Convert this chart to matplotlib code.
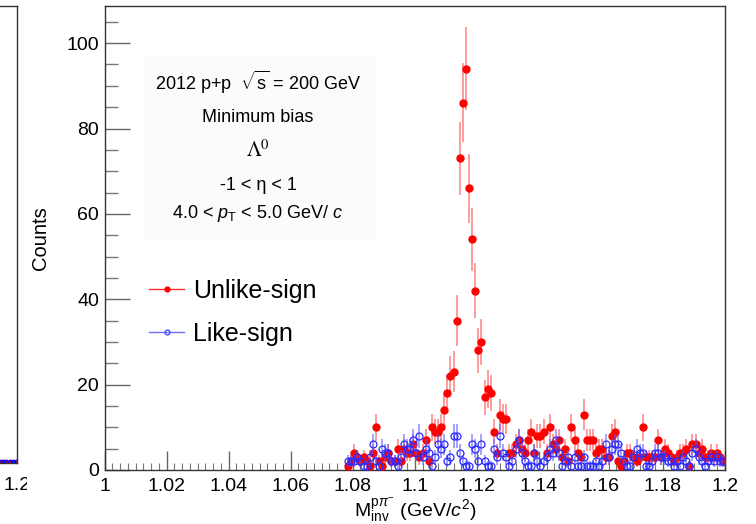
import numpy as np
import matplotlib
matplotlib.use('Agg')
import matplotlib.pyplot as plt
from matplotlib.ticker import MultipleLocator, FixedLocator
from matplotlib.lines import Line2D
from matplotlib.patches import Rectangle

plt.rcParams['font.family'] = ['Liberation Sans', 'DejaVu Sans']
plt.rcParams['mathtext.fontset'] = 'custom'
plt.rcParams['mathtext.rm'] = 'Liberation Sans'
plt.rcParams['mathtext.it'] = 'Liberation Sans:italic'
plt.rcParams['mathtext.bf'] = 'Liberation Sans:bold'

# ---------------- data ----------------
bin_lo = 1.078
bin_width = 0.001
unlike_sign = [
    1, 2, 4, 3, 2, 3, 2, 1, 4, 10,
    2, 1, 3, 4, 2, 2, 5, 2, 5, 4,
    4, 6, 4, 3, 4, 7, 2, 10, 9, 9,
    10, 14, 18, 22, 23, 35, 73, 86, 94, 66,
    54, 42, 28, 30, 17, 19, 18, 9, 4, 13,
    12, 12, 4, 4, 6, 7, 5, 4, 7, 9,
    4, 8, 8, 9, 4, 10, 6, 5, 7, 3,
    5, 2, 10, 7, 4, 3, 13, 7, 7, 7,
    4, 5, 5, 3, 3, 8, 9, 2, 1, 2,
    4, 4, 3, 2, 3, 10, 3, 3, 3, 3,
    7, 3, 5, 4, 3, 2, 3, 4, 4, 5,
    1, 6, 6, 4, 5, 3, 3, 4, 3, 4,
    3, 2,
]
like_sign = [
    2, 2, 2, 3, 2, 1, 1, 3, 6, 2,
    1, 5, 4, 4, 2, 2, 1, 3, 6, 5,
    5, 7, 4, 8, 3, 5, 4, 1, 3, 6,
    5, 6, 2, 3, 8, 8, 4, 2, 1, 1,
    6, 5, 2, 6, 2, 1, 1, 5, 3, 8,
    4, 3, 1, 2, 5, 7, 4, 2, 1, 1,
    4, 2, 1, 2, 3, 5, 4, 7, 4, 1,
    2, 3, 1, 3, 1, 1, 3, 1, 1, 1,
    2, 1, 2, 6, 3, 5, 6, 6, 4, 2,
    1, 1, 3, 5, 4, 4, 1, 1, 2, 4,
    4, 3, 3, 2, 2, 1, 2, 1, 3, 2,
    1, 4, 5, 3, 2, 1, 2, 3, 2, 3,
    2, 2,
]
# neighbouring (cut-off) panel on the left: last bins only
left_lo = 1.185
left_unlike = [30, 25, 28, 22, 26, 24, 27, 23, 25, 21, 24, 22, 20, 23, 25]
left_like = [20, 22, 18, 21, 19, 23, 20, 18, 22, 19, 21, 20, 22, 18, 19]

x_ticks = [1.0, 1.02, 1.04, 1.06, 1.08, 1.1, 1.12, 1.14, 1.16, 1.18, 1.2]
x_tick_labels = ['1', '1.02', '1.04', '1.06', '1.08', '1.1', '1.12', '1.14',
                 '1.16', '1.18', '1.2']
y_ticks = [0, 20, 40, 60, 80, 100]

# ---------------- figure ----------------
W, H = 756, 524
fig = plt.figure(figsize=(W / 100, H / 100), dpi=100)

def fx(px):
    return px / W

def fy(py):
    return 1 - py / H

RED = '#ff0000'
BLUE = '#0000ff'

# left, partially hidden panel
axl = fig.add_axes([fx(-600), fy(463), fx(617.3), fy(6) - fy(463)])
axl.set_zorder(-2)
ul = np.asarray(left_unlike, float)
ll = np.asarray(left_like, float)
xl = left_lo + (np.arange(len(ul)) + 0.5) * bin_width
axl.errorbar(xl, ul, yerr=np.sqrt(ul), fmt='o', color=RED, ms=3, ecolor=(1, 0, 0, 0.5), elinewidth=1)
axl.errorbar(xl, ll, yerr=np.sqrt(ll), fmt='o', color=BLUE, ms=3, mfc='none', ecolor=(0, 0, 1, 0.5), elinewidth=1)
axl.set_xlim(1.0, 1.2)
axl.set_ylim(0, 8000)
axl.xaxis.set_major_locator(FixedLocator([1.2]))
axl.set_xticklabels(['1.2'])
axl.set_yticks([])
axl.tick_params(axis='x', direction='in', length=0, labelsize=14, pad=10)
for s in axl.spines.values():
    s.set_color('#333333')
    s.set_linewidth(1)

# white cover (main pad)
cover = Rectangle((fx(27), 0), 1 - fx(27), 1, transform=fig.transFigure,
                  facecolor='white', edgecolor='none', zorder=-1)
fig.add_artist(cover)

ax = fig.add_axes([fx(104.5), fy(470), fx(725) - fx(104.5), fy(6) - fy(470)])
ax.set_zorder(0)

u = np.asarray(unlike_sign, float)
l = np.asarray(like_sign, float)
xc = bin_lo + (np.arange(len(u)) + 0.5) * bin_width

ax.errorbar(xc, u, yerr=np.sqrt(u), fmt='o', color=RED, ms=5.0, mec=RED,
            ecolor=(1, 0.3, 0.3, 0.7), elinewidth=1.1, capsize=0, zorder=3)
ax.errorbar(xc, l, yerr=np.sqrt(l), fmt='o', color=BLUE, ms=5.0, mfc='none',
            mec='#2a2aff', mew=0.9, ecolor=(0.35, 0.35, 1, 0.7), elinewidth=1.1,
            capsize=0, zorder=4)

ax.set_xlim(1.0, 1.2)
ax.set_ylim(0, 108.7)
ax.set_xticks(x_ticks)
ax.set_xticklabels(x_tick_labels)
ax.set_yticks(y_ticks)
ax.xaxis.set_minor_locator(MultipleLocator(0.0025))
ax.yaxis.set_minor_locator(MultipleLocator(5))
ax.tick_params(axis='x', which='major', direction='in', length=14, width=1,
               color='#666666', labelsize=14, pad=6)
ax.tick_params(axis='x', which='minor', direction='in', length=5, width=0.8,
               color='#777777')
ax.tick_params(axis='y', which='major', direction='in', length=18, width=1,
               color='#666666', labelsize=14, pad=4)
ax.tick_params(axis='y', which='minor', direction='in', length=9, width=1,
               color='#777777')
for s in ax.spines.values():
    s.set_color('#333333')
    s.set_linewidth(1)

ax.set_ylabel('Counts', fontsize=14.5, labelpad=12)
ax.set_xlabel(r'M$_{\mathrm{inv}}^{\mathrm{p}\pi^{-}}$ (GeV/$c^{2}$)',
              fontsize=14, labelpad=1)

# info box
ax.add_artist(Rectangle((fx(145), fy(240)), fx(375) - fx(145), fy(55) - fy(240),
                        transform=fig.transFigure, facecolor='#fbfbfb',
                        edgecolor='none', zorder=0))
cx = fx(258)
fs = 13
fig.text(cx, fy(82), r'2012 p+p  $\sqrt{\mathrm{s}}$ = 200 GeV', ha='center', va='center', fontsize=fs)
fig.text(cx, fy(117), 'Minimum bias', ha='center', va='center', fontsize=fs)
fig.text(cx, fy(150), r'$\Lambda^{0}$', ha='center', va='center', fontsize=fs + 2,
         math_fontfamily='stix')
fig.text(cx, fy(185), '-1 < η < 1', ha='center', va='center', fontsize=fs)
fig.text(cx, fy(213), r'4.0 < $p_{\mathrm{T}}$ < 5.0 GeV/ $c$', ha='center', va='center', fontsize=fs)

handles = [
    Line2D([], [], color='#ff3030', lw=1, marker='o', ms=3.5, mfc=RED, mec=RED),
    Line2D([], [], color='#7070ff', lw=1, marker='o', ms=3.5, mfc='none', mec='#5050ff'),
]
leg = ax.legend(handles, ['Unlike-sign', 'Like-sign'], loc='upper left',
                bbox_to_anchor=(fx(149), fy(279)), bbox_transform=fig.transFigure,
                frameon=False, fontsize=18, handlelength=1.4, handletextpad=0.35,
                labelspacing=0.75, borderpad=0, borderaxespad=0)

fig.savefig('out.png', dpi=100)
